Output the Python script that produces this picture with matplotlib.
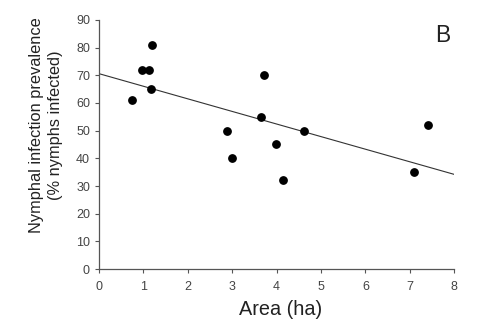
import matplotlib
matplotlib.use("Agg")
import matplotlib.pyplot as plt
import numpy as np

plt.rcParams['font.family'] = ['Liberation Sans', 'DejaVu Sans']

area = [0.74, 0.97, 1.13, 1.19, 1.17, 2.89, 3.00, 3.71, 3.65, 3.99, 4.62, 4.14, 7.41, 7.09]
prevalence = [61, 72, 72, 81, 65, 50, 40, 70, 55, 45, 50, 32, 52, 35]
line_intercept = 70.6
line_slope = -4.55
x_ticks = [0, 1, 2, 3, 4, 5, 6, 7, 8]
y_ticks = [0, 10, 20, 30, 40, 50, 60, 70, 80, 90]

fig = plt.figure(figsize=(4.82, 3.26), dpi=100)
ax = fig.add_axes([0.2054, 0.1748, 0.737, 0.7639])

xs = np.array([0, 8])
ax.plot(xs, line_intercept + line_slope * xs, color='#333333', lw=0.8)
ax.scatter(area, prevalence, s=28, color='black', zorder=3)

ax.set_xlim(0, 8)
ax.set_ylim(0, 90)
ax.set_xticks(x_ticks)
ax.set_yticks(y_ticks)
for s in ['top', 'right']:
    ax.spines[s].set_visible(False)
for s in ['left', 'bottom']:
    ax.spines[s].set_color('#555555')
    ax.spines[s].set_linewidth(0.9)
ax.tick_params(direction='out', length=3, width=0.8, colors='#555555', labelcolor='#444444', labelsize=9)
ax.tick_params(axis='y', pad=3.5)
ax.tick_params(axis='x', pad=5.5)

ax.set_xlabel('Area (ha)', fontsize=14.3, color='#222222')
ax.xaxis.set_label_coords(0.511, -0.125)
ax.set_ylabel('Nymphal infection prevalence\n(% nymphs infected)', fontsize=11.8, color='#222222', linespacing=1.4)
ax.yaxis.set_label_coords(-0.10, 0.577)
ax.text(7.74, 84.5, 'B', fontsize=16.5, ha='center', va='center', color='#222222')

fig.savefig('out.png', dpi=100)
